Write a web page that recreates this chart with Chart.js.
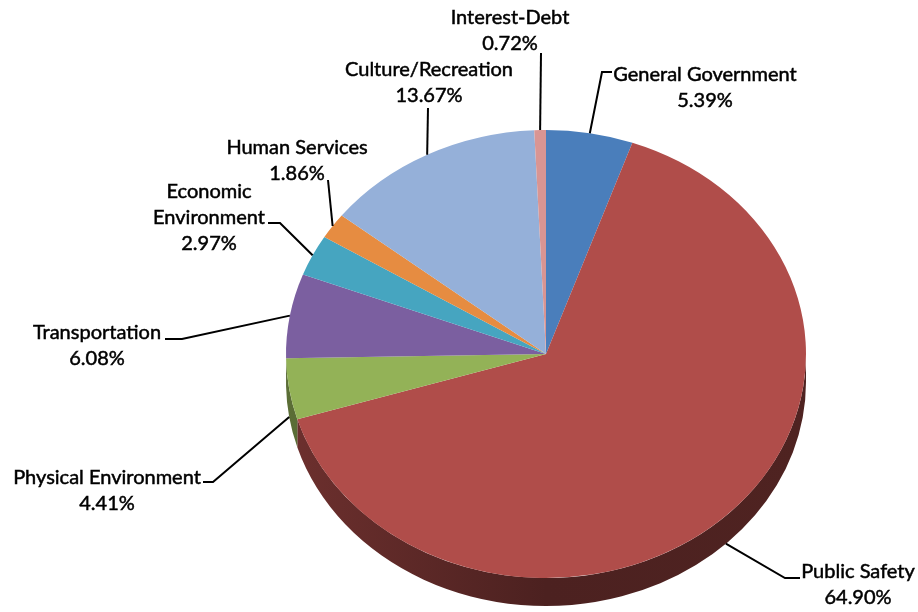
<!DOCTYPE html>
<html>
<head>
<meta charset="utf-8">
<title>Expenditures by Function</title>
<script src="https://cdn.jsdelivr.net/npm/chart.js@4.4.1/dist/chart.umd.min.js"></script>
<style>
  html, body { margin: 0; padding: 0; background: #fff; }
  #wrap { width: 918px; height: 612px; position: relative; }
</style>
</head>
<body>
<div id="wrap"><canvas id="pie-chart"></canvas></div>
<script>
const categories = ['General Government', 'Public Safety', 'Physical Environment', 'Transportation',
                    ['Economic', 'Environment'], 'Human Services', 'Culture/Recreation', 'Interest-Debt'];
const shares = [5.39, 64.90, 4.41, 6.08, 2.97, 1.86, 13.67, 0.72];
const sliceColors = ['#4a7ebb', '#b04d4a', '#93b257', '#7b5fa0', '#46a5c0', '#e68c41', '#95b0d9', '#d99593'];

// where each label sits (centre of its first line) and how its leader line bends
const labelSpots = [
    { x: 705, y: 75, bend: [602, 72], end: [612, 72] },
    { x: 858, y: 572, bend: [785, 578], end: [800, 578] },
    { x: 107, y: 478, bend: [213, 482], end: [203, 482] },
    { x: 97, y: 333, bend: [182, 339], end: [165, 339] },
    { x: 209, y: 192, bend: [280, 223], end: [268, 223] },
    { x: 297, y: 148, end: [328, 180] },
    { x: 429, y: 70, end: [428, 108] },
    { x: 510, y: 18, end: [541, 53] }
];

const RX = 260, RY = 224, DEPTH = 28, LINE_H = 26;

function shade(hex, f) {
    const n = parseInt(hex.slice(1), 16);
    const r = Math.round(((n >> 16) & 255) * f);
    const g = Math.round(((n >> 8) & 255) * f);
    const b = Math.round((n & 255) * f);
    return `rgb(${r},${g},${b})`;
}

// squash the pie into a tilted disc with a visible rim
const tiltedPie = {
    id: 'tiltedPie',
    beforeDatasetsDraw(chart) {
        const ctx = chart.ctx;
        const arcs = chart.getDatasetMeta(0).data;
        const { x: cx, y: cy, outerRadius: r } = arcs[0];

        arcs.forEach((arc, i) => {
            const a1 = Math.max(arc.startAngle, 0);
            const a2 = Math.min(arc.endAngle, Math.PI);
            if (a2 <= a1) return;
            const g = ctx.createLinearGradient(cx - RX, 0, cx + RX, 0);
            g.addColorStop(0, shade(sliceColors[i], 0.62));
            g.addColorStop(0.5, shade(sliceColors[i], 0.43));
            g.addColorStop(1, shade(sliceColors[i], 0.45));
            ctx.beginPath();
            ctx.ellipse(cx, cy, RX, RY, 0, a1, a2);
            ctx.ellipse(cx, cy + DEPTH, RX, RY, 0, a2, a1, true);
            ctx.closePath();
            ctx.fillStyle = g;
            ctx.fill();
        });

        ctx.save();
        ctx.translate(cx, cy);
        ctx.scale(RX / r, RY / r);
        ctx.translate(-cx, -cy);
    },
    afterDatasetsDraw(chart) {
        const ctx = chart.ctx;
        ctx.restore();

        const arcs = chart.getDatasetMeta(0).data;
        const { x: cx, y: cy } = arcs[0];

        ctx.save();
        ctx.strokeStyle = '#000';
        ctx.lineWidth = 2;
        arcs.forEach((arc, i) => {
            const mid = (arc.startAngle + arc.endAngle) / 2;
            const s = Math.sin(mid);
            const ax = cx + RX * Math.cos(mid);
            const ay = cy + RY * s + (s > 0 ? DEPTH : 0);
            const spot = labelSpots[i];
            ctx.beginPath();
            ctx.moveTo(ax, ay);
            if (spot.bend) ctx.lineTo(spot.bend[0], spot.bend[1]);
            ctx.lineTo(spot.end[0], spot.end[1]);
            ctx.stroke();
        });

        // a hairline outline gives the labels a little more weight
        ctx.fillStyle = '#000';
        ctx.lineWidth = 0.5;
        ctx.font = '20px Lato';
        ctx.textAlign = 'center';
        ctx.textBaseline = 'middle';
        categories.forEach((cat, i) => {
            const lines = [].concat(cat, shares[i].toFixed(2) + '%');
            const spot = labelSpots[i];
            lines.forEach((t, k) => {
                ctx.fillText(t, spot.x, spot.y + k * LINE_H);
                ctx.strokeText(t, spot.x, spot.y + k * LINE_H);
            });
        });
        ctx.restore();
    }
};

const ctx = document.getElementById('pie-chart').getContext('2d');
const pieChart = new Chart(ctx, {
    type: 'pie',
    data: {
        labels: categories,
        datasets: [{
            data: shares,
            backgroundColor: sliceColors,
            borderWidth: 0,
            hoverOffset: 0,
            clip: false
        }]
    },
    options: {
        responsive: true,
        maintainAspectRatio: false,
        animation: false,
        events: [],
        layout: { padding: { left: 286, right: 112, top: 96, bottom: 0 } },
        plugins: {
            legend: { display: false },
            tooltip: { enabled: false }
        }
    },
    plugins: [tiltedPie]
});
</script>
</body>
</html>
